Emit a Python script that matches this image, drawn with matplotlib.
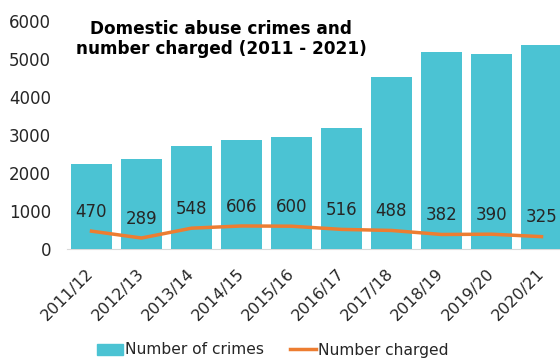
import numpy as np
import matplotlib.pyplot as plt
from matplotlib.patches import Patch
from matplotlib.lines import Line2D

years = ["2011/12", "2012/13", "2013/14", "2014/15", "2015/16",
         "2016/17", "2017/18", "2018/19", "2019/20", "2020/21"]
crimes = [2230, 2380, 2700, 2880, 2960, 3190, 4530, 5180, 5130, 5370]
charged = [470, 289, 548, 606, 600, 516, 488, 382, 390, 325]

BAR_COLOR = "#4BC3D3"
LINE_COLOR = "#ED7D31"
TEXT_COLOR = "#262626"

plt.rcParams["font.family"] = "DejaVu Sans"

fig = plt.figure(figsize=(5.6, 3.62), dpi=100)
ax = fig.add_axes([66.5 / 560, 1 - 249 / 362, 500 / 560, 228 / 362])

x = np.arange(len(years))
ax.bar(x, crimes, width=0.82, color=BAR_COLOR, zorder=2)
ax.plot(x, charged, color=LINE_COLOR, linewidth=2.5, zorder=3)

for xi, v in zip(x, charged):
  ax.annotate(str(v), (xi, v), xytext=(0, 14), textcoords="offset points",
              ha="center", va="center", fontsize=12, color=TEXT_COLOR, zorder=4)

ax.set_xlim(-0.5, 9.5)
ax.set_ylim(0, 6000)
ax.set_yticks(range(0, 6001, 1000))
ax.set_xticks(x)
ax.set_xticklabels(years, rotation=45, ha="right", va="center", rotation_mode="anchor")
ax.tick_params(axis="both", length=0, labelsize=12, colors=TEXT_COLOR)
ax.tick_params(axis="x", labelsize=11.5, pad=16)
ax.tick_params(axis="y", pad=11)

for s in ["top", "right", "left"]:
  ax.spines[s].set_visible(False)
ax.spines["bottom"].set_color("#D9D9D9")
ax.spines["bottom"].set_zorder(1)

fig.text(221 / 560, 1 - 39 / 362, "Domestic abuse crimes and\nnumber charged (2011 - 2021)",
         ha="center", va="center", fontsize=12.2, fontweight="bold",
         color="black", linespacing=1.2)

handles = [Patch(color=BAR_COLOR, label="Number of crimes"),
           Line2D([], [], color=LINE_COLOR, linewidth=2.5, label="Number charged")]
fig.legend(handles=handles, loc="center", bbox_to_anchor=(273 / 560, 1 - 350 / 362),
           ncol=2, frameon=False, fontsize=11.2, handlelength=1.67,
           handletextpad=0.12, columnspacing=1.7, labelcolor=TEXT_COLOR)

fig.savefig("out.png", dpi=100)
